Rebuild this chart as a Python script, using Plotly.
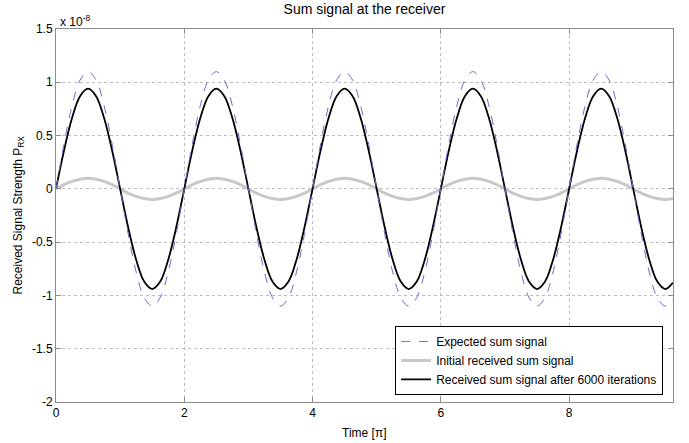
import numpy as np
import plotly.graph_objects as go

# Time axis in units of pi (samples every eighth unit, last sample at the right edge)
time_pi = [round(0.125 * k, 3) for k in range(77)] + [9.62]

# Signal values in units of 1e-8 (one period = 16 samples)
expected = [0, 0.42, 0.78, 1.02, 1.1, 1.02, 0.78, 0.42, 0, -0.42, -0.78, -1.02, -1.1, -1.02, -0.78, -0.42,
            0, 0.42, 0.78, 1.02, 1.1, 1.02, 0.78, 0.42, 0, -0.42, -0.78, -1.02, -1.1, -1.02, -0.78, -0.42,
            0, 0.42, 0.78, 1.02, 1.1, 1.02, 0.78, 0.42, 0, -0.42, -0.78, -1.02, -1.1, -1.02, -0.78, -0.42,
            0, 0.42, 0.78, 1.02, 1.1, 1.02, 0.78, 0.42, 0, -0.42, -0.78, -1.02, -1.1, -1.02, -0.78, -0.42,
            0, 0.42, 0.78, 1.02, 1.1, 1.02, 0.78, 0.42, 0, -0.42, -0.78, -1.02, -1.1, -1.03]
initial = [0, 0.04, 0.07, 0.09, 0.1, 0.09, 0.07, 0.04, 0, -0.04, -0.07, -0.09, -0.1, -0.09, -0.07, -0.04,
           0, 0.04, 0.07, 0.09, 0.1, 0.09, 0.07, 0.04, 0, -0.04, -0.07, -0.09, -0.1, -0.09, -0.07, -0.04,
           0, 0.04, 0.07, 0.09, 0.1, 0.09, 0.07, 0.04, 0, -0.04, -0.07, -0.09, -0.1, -0.09, -0.07, -0.04,
           0, 0.04, 0.07, 0.09, 0.1, 0.09, 0.07, 0.04, 0, -0.04, -0.07, -0.09, -0.1, -0.09, -0.07, -0.04,
           0, 0.04, 0.07, 0.09, 0.1, 0.09, 0.07, 0.04, 0, -0.04, -0.07, -0.09, -0.1, -0.09]
after_iter = [0, 0.36, 0.665, 0.87, 0.94, 0.87, 0.665, 0.36, 0, -0.36, -0.665, -0.87, -0.94, -0.87, -0.665, -0.36,
              0, 0.36, 0.665, 0.87, 0.94, 0.87, 0.665, 0.36, 0, -0.36, -0.665, -0.87, -0.94, -0.87, -0.665, -0.36,
              0, 0.36, 0.665, 0.87, 0.94, 0.87, 0.665, 0.36, 0, -0.36, -0.665, -0.87, -0.94, -0.87, -0.665, -0.36,
              0, 0.36, 0.665, 0.87, 0.94, 0.87, 0.665, 0.36, 0, -0.36, -0.665, -0.87, -0.94, -0.87, -0.665, -0.36,
              0, 0.36, 0.665, 0.87, 0.94, 0.87, 0.665, 0.36, 0, -0.36, -0.665, -0.87, -0.94, -0.88]

x_ticks = [0, 2, 4, 6, 8]
y_ticks = [1.5, 1, 0.5, 0, -0.5, -1, -1.5, -2]
y_tick_text = ["1.5", "1", "0.5", "0", "-0.5", "-1", "-1.5", "-2"]

FONT = "Liberation Sans, Arial, Helvetica, sans-serif"

fig = go.Figure()
fig.add_trace(go.Scatter(x=time_pi, y=initial, mode="lines", name="Initial received sum signal",
                         line=dict(color="#c8c8c8", width=3, shape="spline"), legendrank=2))
fig.add_trace(go.Scatter(x=time_pi, y=after_iter, mode="lines",
                         name="Received sum signal after 6000 iterations",
                         line=dict(color="black", width=1.8, shape="spline"), legendrank=3))
fig.add_trace(go.Scatter(x=time_pi, y=expected, mode="lines", name="Expected sum signal",
                         line=dict(color="#6b6bd0", width=1, dash="dash", shape="spline"), legendrank=1))

axis_common = dict(showline=True, linecolor="#8c8c8c", linewidth=1, mirror="ticks",
                   ticks="inside", ticklen=5, tickcolor="#8c8c8c",
                   showgrid=True, gridcolor="#bdbdbd", griddash="dot", gridwidth=1,
                   zeroline=False, automargin=False,
                   tickfont=dict(family=FONT, size=12, color="black"))

fig.update_layout(
    width=689, height=443,
    margin=dict(l=56, r=16, t=29, b=41),
    paper_bgcolor="white", plot_bgcolor="white",
    font=dict(family=FONT, size=12, color="black"),
    title=dict(text="Sum signal at the receiver", x=0.5, xref="paper", y=1, yref="container",
               yanchor="top", pad=dict(t=4), font=dict(family=FONT, size=14, color="black")),
    xaxis=dict(range=[0, 9.62], tickvals=x_ticks, **axis_common),
    yaxis=dict(range=[-2, 1.5], tickvals=y_ticks, ticktext=y_tick_text, **axis_common),
    legend=dict(x=0.984, y=0.019, xanchor="right", yanchor="bottom",
                bgcolor="white", bordercolor="black", borderwidth=1,
                font=dict(family=FONT, size=12, color="black"),
                tracegroupgap=0, itemwidth=30),
    showlegend=True,
)

fig.add_annotation(text="Time [π]", x=0.5, xref="paper", y=0, yref="paper",
                   xanchor="center", yanchor="middle", showarrow=False, yshift=-31,
                   font=dict(family=FONT, size=12, color="black"))
fig.add_annotation(text="Received Signal Strength P<sub>RX</sub>", x=0, xref="paper", y=0.5,
                   yref="paper", xanchor="center", yanchor="middle", showarrow=False,
                   textangle=-90, xshift=-38, font=dict(family=FONT, size=12, color="black"))
fig.add_annotation(text="x 10<sup>-8</sup>", x=0, xref="paper", y=1, yref="paper",
                   xanchor="left", yanchor="bottom", showarrow=False,
                   font=dict(family=FONT, size=12, color="black"), xshift=2, yshift=-2)

fig.write_html("out.html")
